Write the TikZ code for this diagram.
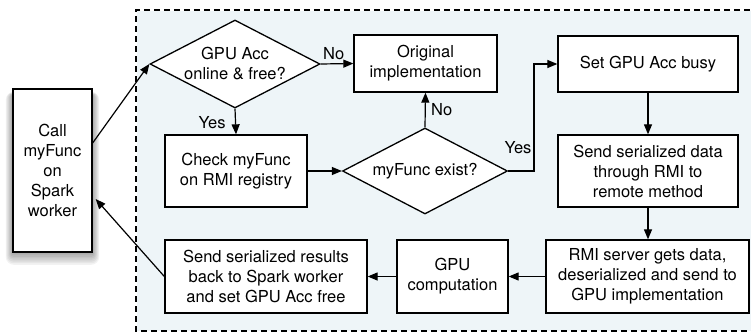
\documentclass[tikz,border=0pt]{standalone}
\usepackage{fontspec}
\setmainfont{TeX Gyre Heros}
\usepackage{tikz}
\definecolor{panelbg}{RGB}{238, 245, 248}
\usetikzlibrary{shapes.geometric, arrows.meta, positioning, calc}

\begin{document}
\begin{tikzpicture}[
    x=1pt, y=-1pt,
    font=\fontsize{16.5}{20}\selectfont,
    stepbox/.style={draw=black, line width=1.3pt, fill=white, inner sep=0pt, align=center},
    decision/.style={diamond, draw=black, line width=1.3pt, fill=white, inner sep=0pt},
    flow/.style={-{Triangle[length=10pt, width=8pt]}, line width=1.2pt}
]
    \useasboundingbox (0,0) rectangle (751,334);

    % Accelerator side, dashed panel
    \draw[panelbg, fill=panelbg] (137,11) rectangle (760,330);
    \draw[line width=1.1pt, dash pattern=on 6pt off 4pt] (760,10) -| (136,331) -- (760,331);

    % Soft shadow under the worker box
    \foreach \s in {1,...,8}
        \fill[black, opacity=0.05, rounded corners=\s pt]
            (13-\s*0.9, 95-\s*0.4) rectangle (92+\s*0.9, 252+\s*1.6);

    % Spark worker
    \node[stepbox, minimum width=79pt, minimum height=163pt] (call) at (52.5,170.5) {Call\\myFunc\\on\\Spark\\worker};

    % Decisions
    \node[decision, minimum width=170pt, minimum height=88pt] (d1) at (235,64) {};
    \node[align=center] at (d1) {GPU Acc\\online \& free?};
    \node[decision, minimum width=165pt, minimum height=86pt] (d2) at (425,171) {};
    \node at (d2) {myFunc exist?};

    % Steps
    \node[stepbox, minimum width=143pt, minimum height=57pt] (orig) at (425.5,63.5) {Original\\implementation};
    \node[stepbox, minimum width=180pt, minimum height=56pt] (busy) at (648,64) {Set GPU Acc busy};
    \node[stepbox, minimum width=142pt, minimum height=72pt] (check) at (236,171) {Check myFunc\\on RMI registry};
    \node[stepbox, minimum width=180pt, minimum height=72pt] (send) at (648,171) {Send serialized data\\through RMI to\\remote method};
    \node[stepbox, minimum width=203pt, minimum height=73pt] (rmi) at (647.5,276.5) {RMI server gets data,\\deserialized and send to\\GPU implementation};
    \node[stepbox, minimum width=111pt, minimum height=73pt] (gpu) at (452.5,276.5) {GPU\\computation};
    \node[stepbox, minimum width=202pt, minimum height=73pt] (results) at (266,276.5) {Send serialized results\\back to Spark worker\\and set GPU Acc free};

    % Connectors
    \draw[flow] ([yshift=27.5pt]call.east) -- (d1.west);
    \draw[flow] (d1.east) -- (orig.west) node[pos=0.4, above] {No};
    \draw[flow] (d1.south) -- (check.north) node[pos=0.55, left, xshift=-6pt] {Yes};
    \draw[flow] (check.east) -- (d2.west);
    \draw[flow] (d2.north) -- (orig.south) node[midway, right, xshift=2pt] {No};
    \coordinate (yesbend) at (534,171);
    \draw[flow] (d2.east) -- (yesbend) |- (busy.west);
    \node[left] (yeslabel) at (535,148) {Yes};
    \draw[flow] (busy.south) -- (send.north);
    \draw[flow] (send.south) -- (send.south |- rmi.north);
    \draw[flow] (rmi.west) -- (gpu.east);
    \draw[flow] (gpu.west) -- (results.east);
    \draw[flow] (results.west) -- ([yshift=-28.5pt, xshift=3pt]call.east);
\end{tikzpicture}
\end{document}
